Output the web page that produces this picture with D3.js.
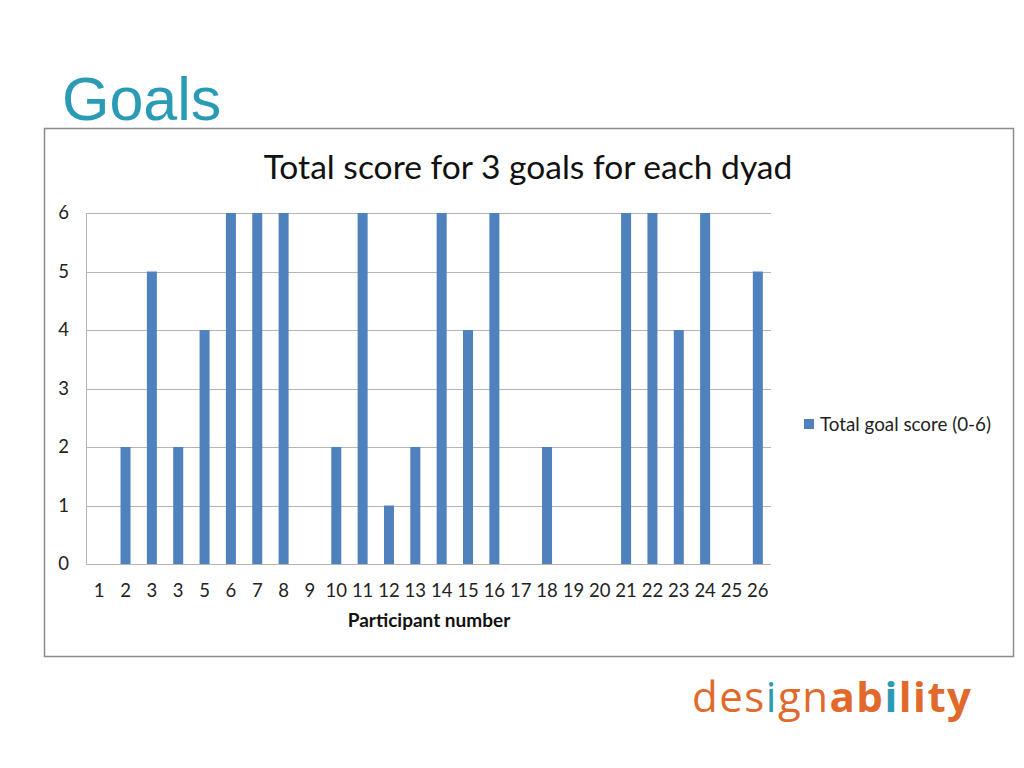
<!DOCTYPE html>
<html><head><meta charset="utf-8">
<script src="https://cdn.jsdelivr.net/npm/d3@7"></script>
<style>body{margin:0;background:#fff}svg{display:block}</style>
</head><body>
<svg id="c" width="1024" height="768"></svg>
<script>
const categories = ["1","2","3","3","5","6","7","8","9","10","11","12","13","14","15","16","17","18","19","20","21","22","23","24","25","26"];
const values = [0,2,5,2,4,6,6,6,0,2,6,1,2,6,4,6,0,2,0,0,6,6,4,6,0,5];
const yTicks = [0,1,2,3,4,5,6];
const seriesName = "Total goal score (0-6)";

const svg = d3.select("#c");
const F = "Lato, 'Open Sans', sans-serif";

svg.append("text").attr("x",62).attr("y",120).attr("fill","#2a9bb5")
  .attr("font-family","Liberation Sans, Arial, sans-serif").attr("font-size",61).text("Goals");

svg.append("rect").attr("x",44.5).attr("y",128.5).attr("width",969).attr("height",528)
  .attr("fill","#fff").attr("stroke","#8c8c8c").attr("stroke-width",1.5);

svg.append("text").attr("x",528).attr("y",179).attr("text-anchor","middle")
  .attr("font-family",F).attr("font-size",33.6).attr("fill","#111").text("Total score for 3 goals for each dyad");

const L=86,R=771,T=213,B=564;
const x = d3.scaleBand().domain(d3.range(categories.length)).range([L,R]);
const y = d3.scaleLinear().domain([0,6]).range([B,T]);

const g = svg.append("g");
g.selectAll("line.grid").data(yTicks).join("line")
  .attr("x1",L).attr("x2",R).attr("y1",d=>Math.round(y(d))+0.5).attr("y2",d=>Math.round(y(d))+0.5)
  .attr("stroke","#b5b5b5").attr("stroke-width",1);
g.append("line").attr("x1",L+0.5).attr("x2",L+0.5).attr("y1",T).attr("y2",B).attr("stroke","#b5b5b5");

g.selectAll("text.yt").data(yTicks).join("text")
  .attr("x",69).attr("y",d=>y(d)).attr("dy","0.35em").attr("text-anchor","end")
  .attr("font-family",F).attr("font-size",18.5).attr("fill","#222").text(d=>d);

const bw = 10;
g.selectAll("rect.bar").data(values).join("rect")
  .attr("x",(d,i)=>x(i)+x.bandwidth()/2-bw/2).attr("width",bw)
  .attr("y",d=>y(d)).attr("height",d=>B-y(d)).attr("fill","#4f81bd");

g.selectAll("text.xt").data(categories).join("text")
  .attr("x",(d,i)=>x(i)+x.bandwidth()/2).attr("y",597).attr("text-anchor","middle")
  .attr("font-family",F).attr("font-size",18.5).attr("fill","#222").text(d=>d);

svg.append("text").attr("x",429).attr("y",627).attr("text-anchor","middle")
  .attr("font-family",F).attr("font-weight","bold").attr("font-size",19).attr("fill","#111").text("Participant number");

svg.append("rect").attr("x",804).attr("y",419).attr("width",10).attr("height",10).attr("fill","#4f81bd");
svg.append("text").attr("x",820).attr("y",424).attr("dy","0.35em")
  .attr("font-family",F).attr("font-size",18.8).attr("fill","#222").text(seriesName);

const logo = svg.append("text").attr("x",692).attr("y",712)
  .attr("font-family","'Open Sans', sans-serif").attr("font-size",42).attr("letter-spacing",1.5).attr("fill","#e0692b");
logo.append("tspan").text("des");
logo.append("tspan").attr("fill","#2a9bb5").text("i");
logo.append("tspan").text("gn");
logo.append("tspan").attr("font-weight","bold").text("ab");
logo.append("tspan").attr("font-weight","bold").attr("fill","#2a9bb5").text("i");
logo.append("tspan").attr("font-weight","bold").text("lity");
</script>
</body></html>
